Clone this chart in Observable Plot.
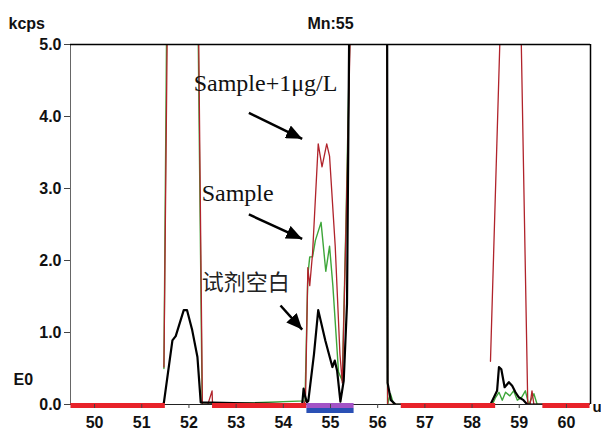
<!DOCTYPE html>
<html><head><meta charset="utf-8">
<script src="https://cdn.jsdelivr.net/npm/d3@7"></script>
<script src="https://cdn.jsdelivr.net/npm/@observablehq/plot@0.6"></script>
<style>
html,body{margin:0;padding:0;background:#fff;}
#chart{width:601px;height:433px;overflow:hidden;}
</style></head><body><div id="chart"></div>
<script>
// Axes
const xTicks = [50, 51, 52, 53, 54, 55, 56, 57, 58, 59, 60];
const yTicks = [0, 1, 2, 3, 4, 5];
const xDomain = [49.49, 60.51];
const yDomain = [0, 5];

// 试剂空白 (blank, black)
const blankX = [49.5, 51.45, 51.47, 51.65, 51.72, 51.89, 51.96, 52.07, 52.18, 52.25, 54.40, 54.43, 54.46, 54.50, 54.53, 54.65, 54.74, 54.79, 54.89, 55.04, 55.09, 55.14, 55.21, 55.28, 55.35, 55.40, 56.20, 56.21, 56.28, 56.38, 58.39, 58.53, 58.57, 58.62, 58.69, 58.78, 58.85, 58.92, 58.99, 59.09, 59.17, 60.5];
const blankY = [0, 0, 0.03, 0.89, 0.95, 1.31, 1.31, 1.03, 0.66, 0.03, 0, 0.22, 0.12, 0.03, 0.05, 0.70, 1.31, 1.17, 0.89, 0.52, 0.61, 0.47, 0.04, 0.33, 1.4, 5.5, 5.5, 0.3, 0.06, 0, 0, 0.19, 0.52, 0.49, 0.24, 0.31, 0.26, 0.17, 0.10, 0.06, 0, 0];

// Sample (green)
const sampleX = [51.47, 51.53, 52.19, 52.28, 54.46, 54.52, 54.56, 54.62, 54.68, 54.80, 54.90, 54.98, 55.05, 55.17, 55.25, 55.33, 55.42, 56.20, 56.21, 56.27, 56.34, 58.43, 58.50, 58.57, 58.64, 58.71, 58.80, 58.88, 58.96, 59.05, 59.13, 59.20, 59.31, 59.38, 60.5];
const sampleY = [0.50, 5.5, 5.5, 0, 0.05, 1.8, 2.05, 2.05, 2.28, 2.53, 1.85, 2.2, 1.65, 0.45, 0.33, 2.6, 5.5, 5.5, 0, 0.15, 0, 0, 0.1, 0.17, 0.06, 0.17, 0.12, 0.19, 0.06, 0.1, 0.19, 0, 0.15, 0, 0];

// Sample+1μg/L (dark red)
const spikedX = [51.47, 51.545, 52.20, 52.285, 52.40, 52.49, 52.50, 54.42, 54.47, 54.52, 54.56, 54.62, 54.74, 54.82, 54.92, 54.98, 55.10, 55.20, 55.25, 55.33, 55.43, 56.20, 56.21, 58.38, 58.385, 58.39, 58.61, 59.03, 59.18, 59.23, 59.27, 59.31, 60.5];
const spikedY = [0.52, 5.5, 5.5, 0, 0, 0.19, 0, 0, 0.05, 1.9, 1.65, 2.1, 3.62, 3.3, 3.62, 3.45, 2.2, 0.7, 0.3, 2.5, 5.5, 5.5, 0, 0, null, 0.6, 5.5, 5.5, 0.02, 0, 0.19, 0, 0];

// Integration windows
const bgStart = [49.5, 52.5, 56.5, 59.5];
const bgEnd = [51.5, 54.5, 58.5, 60.5];
const peakStart = [54.5];
const peakEnd = [55.5];

// Annotations
const labelText = ["Sample+1μg/L", "Sample"];
const labelX = [52.10, 52.27];
const labelY = [4.35, 2.83];
const cnText = ["试剂空白"];
const cnX = [52.27];
const cnY = [1.69];
const arrowX1 = [53.27, 53.27, 53.94];
const arrowY1 = [4.05, 2.64, 1.375];
const arrowX2 = [54.40, 54.40, 54.40];
const arrowY2 = [3.69, 2.30, 1.04];

const rows = (xs, ys) => xs.map((x, i) => ({x, y: ys[i]}));

function filledArrow(color, ctx) {
  const doc = (ctx && ctx.document) || (ctx && ctx.createElementNS ? ctx : document);
  const ns = "http://www.w3.org/2000/svg";
  const m = doc.createElementNS(ns, "marker");
  m.setAttribute("viewBox", "-16 -7 16 14");
  m.setAttribute("markerUnits", "userSpaceOnUse");
  m.setAttribute("markerWidth", "16");
  m.setAttribute("markerHeight", "14");
  m.setAttribute("refX", "0");
  m.setAttribute("refY", "0");
  m.setAttribute("orient", "auto");
  m.setAttribute("fill", color);
  m.setAttribute("stroke", "none");
  const p = doc.createElementNS(ns, "path");
  p.setAttribute("d", "M-16,-7L0,0L-16,7Z");
  m.appendChild(p);
  return m;
}

const tickFont = {fontSize: 16, fontWeight: "bold", fill: "#111"};

const chart = Plot.plot({
  width: 601, height: 433,
  marginLeft: 70, marginRight: 11, marginTop: 44, marginBottom: 29,
  style: {fontFamily: "'Liberation Sans', Arial, sans-serif", background: "#fff", color: "#111"},
  x: {domain: xDomain},
  y: {domain: yDomain},
  marks: [
    Plot.line(rows(sampleX, sampleY), {x: "x", y: "y", stroke: "#3ea63a", strokeWidth: 1.4, clip: true}),
    Plot.line(rows(spikedX, spikedY), {x: "x", y: "y", stroke: "#b0232b", strokeWidth: 1.3, clip: true}),
    Plot.line(rows(blankX, blankY), {x: "x", y: "y", stroke: "#000", strokeWidth: 2.2, clip: true}),
    Plot.ruleX([xDomain[0]], {stroke: "#666", strokeWidth: 1}),
    Plot.ruleY([yDomain[1]], {stroke: "#000", strokeWidth: 1.5}),
    Plot.ruleX([xDomain[1]], {stroke: "#000", strokeWidth: 1.5}),
    Plot.ruleY([0], {stroke: "#222", strokeWidth: 1}),
    Plot.ruleY(bgStart, {y: 0, x1: bgStart, x2: bgEnd, stroke: "#e8222a", strokeWidth: 5, dy: 1}),
    Plot.ruleY(peakStart, {y: 0, x1: peakStart, x2: peakEnd, stroke: "#a353c6", strokeWidth: 5, dy: 1}),
    Plot.ruleY(peakStart, {y: 0, x1: peakStart, x2: peakEnd, stroke: "#2a50b5", strokeWidth: 5, dy: 6}),
    Plot.axisY(yTicks, {tickFormat: d => d.toFixed(1), tickSize: 6, tickPadding: 3, label: null, stroke: "#444", ...tickFont}),
    Plot.axisX(xTicks, {tickFormat: d => String(d), tickSize: 4, tickPadding: 8, label: null, stroke: "#444", ...tickFont}),
    Plot.text(["kcps"], {frameAnchor: "top-left", dx: -62, dy: -27, textAnchor: "start", fontSize: 16, fontWeight: "bold", fill: "#111"}),
    Plot.text(["Mn:55"], {frameAnchor: "top", dy: -27, fontSize: 16, fontWeight: "bold", fill: "#111"}),
    Plot.text(["E0"], {frameAnchor: "bottom-left", dx: -57, dy: -20, textAnchor: "start", fontSize: 16, fontWeight: "bold", fill: "#111"}),
    Plot.text(["u"], {frameAnchor: "bottom-right", dx: 2, dy: 7, textAnchor: "start", fontSize: 15, fontWeight: "bold", fill: "#111"}),
    Plot.text(labelText, {x: labelX, y: labelY, text: d => d, textAnchor: "start", lineAnchor: "bottom", fontFamily: "'Liberation Serif', 'Times New Roman', serif", fontSize: 24, fill: "#111"}),
    Plot.text(cnText, {x: cnX, y: cnY, text: d => d, textAnchor: "start", lineAnchor: "middle", fontFamily: "'Noto Sans CJK SC', sans-serif", fontSize: 22, fill: "#222"}),
    Plot.link(arrowX1, {x1: arrowX1, y1: arrowY1, x2: arrowX2, y2: arrowY2, stroke: "#000", strokeWidth: 2.5, markerEnd: filledArrow})
  ]
});
document.getElementById("chart").appendChild(chart);
</script>
</body></html>
